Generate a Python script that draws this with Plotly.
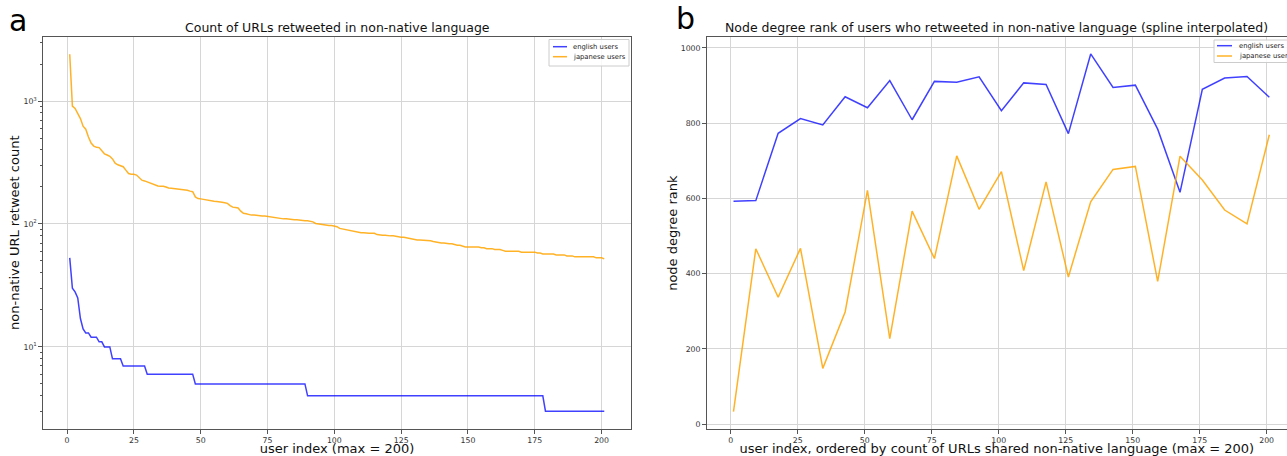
import plotly.graph_objects as go

# ---------------- data ----------------
user_index = list(range(1, 202))

english_counts = [
    53, 30, 28, 25, 17, 14, 13, 13, 12, 12, 12, 11, 11, 10, 10, 10, 8, 8, 8, 8,
    7, 7, 7, 7, 7, 7, 7, 7, 7, 6, 6, 6, 6, 6, 6, 6, 6, 6, 6, 6,
    6, 6, 6, 6, 6, 6, 6, 5, 5, 5, 5, 5, 5, 5, 5, 5, 5, 5, 5, 5,
    5, 5, 5, 5, 5, 5, 5, 5, 5, 5, 5, 5, 5, 5, 5, 5, 5, 5, 5, 5,
    5, 5, 5, 5, 5, 5, 5, 5, 5, 4, 4, 4, 4, 4, 4, 4, 4, 4, 4, 4,
    4, 4, 4, 4, 4, 4, 4, 4, 4, 4, 4, 4, 4, 4, 4, 4, 4, 4, 4, 4,
    4, 4, 4, 4, 4, 4, 4, 4, 4, 4, 4, 4, 4, 4, 4, 4, 4, 4, 4, 4,
    4, 4, 4, 4, 4, 4, 4, 4, 4, 4, 4, 4, 4, 4, 4, 4, 4, 4, 4, 4,
    4, 4, 4, 4, 4, 4, 4, 4, 4, 4, 4, 4, 4, 4, 4, 4, 4, 4, 3, 3,
    3, 3, 3, 3, 3, 3, 3, 3, 3, 3, 3, 3, 3, 3, 3, 3, 3, 3, 3, 3,
    3,
]

japanese_counts = [
    2400, 910, 870, 800, 720, 625, 590, 510, 455, 430, 420, 418, 398, 372, 364, 355, 338, 312, 303, 297,
    292, 274, 257, 254, 254, 250, 237, 227, 224, 220, 217, 212, 207, 204, 203, 203, 200, 196, 195, 194,
    193, 191, 190, 189, 188, 185, 183, 166, 161, 160, 159, 158, 156, 154, 153, 152, 152, 150, 149, 147,
    141, 137, 136, 135, 127, 122, 121, 119, 118, 118, 117, 117, 116, 116, 115, 114, 113, 112, 111, 111,
    110, 110, 109, 109, 108, 108, 107, 107, 106, 106, 105, 104, 101, 100, 99, 98, 98, 97, 97, 96,
    95, 92, 91, 90, 90, 89, 87, 87, 86, 85, 85, 84, 84, 84, 84, 82, 81, 81, 81, 80,
    80, 80, 79, 79, 78, 78, 77, 76, 75, 75, 74, 74, 74, 74, 73, 73, 72, 71, 70, 70,
    70, 69, 69, 69, 68, 67, 67, 66, 65, 65, 65, 65, 65, 65, 64, 64, 63, 63, 63, 62,
    62, 62, 61, 60, 60, 60, 60, 60, 60, 59, 59, 59, 59, 59, 59, 58, 58, 57, 57, 57,
    57, 57, 56, 56, 56, 56, 55, 55, 55, 54, 54, 54, 54, 54, 54, 54, 54, 53, 53, 53,
    52,
]

rank_index = [1, 9.33, 17.67, 26, 34.33, 42.67, 51, 59.33, 67.67, 76, 84.33, 92.67, 101,
              109.33, 117.67, 126, 134.33, 142.67, 151, 159.33, 167.67, 176, 184.33, 192.67, 201]
english_rank = [592, 594, 773, 812, 795, 870, 841, 913, 809, 911, 909, 923, 833,
                907, 903, 772, 984, 895, 901, 784, 616, 890, 920, 924, 869]
japanese_rank = [33, 466, 337, 467, 148, 298, 621, 227, 566, 440, 713, 571, 671,
                 408, 644, 391, 591, 677, 685, 379, 712, 649, 569, 532, 769]

x_ticks = [0, 25, 50, 75, 100, 125, 150, 175, 200]
log_ticks = [10, 100, 1000]
log_tick_text = ["10<sup>1</sup>", "10<sup>2</sup>", "10<sup>3</sup>"]
log_minor = [3, 4, 5, 6, 7, 8, 9, 20, 30, 40, 50, 60, 70, 80, 90,
             200, 300, 400, 500, 600, 700, 800, 900, 2000, 3000]
rank_ticks = [0, 200, 400, 600, 800, 1000]

series_names = ["english users", "japanese users"]
BLUE = "rgba(0,0,255,0.75)"
ORANGE = "rgba(255,165,0,0.85)"

# ---------------- layout helpers ----------------
W, H = 1287, 456
FONT = "DejaVu Sans"


def px(x):
    return x / W


def py(y):
    return 1 - y / H


fig = go.Figure()
fig.add_trace(go.Scatter(x=user_index, y=english_counts, mode="lines", name=series_names[0],
                         line=dict(color=BLUE, width=1.5), xaxis="x", yaxis="y", showlegend=False))
fig.add_trace(go.Scatter(x=user_index, y=japanese_counts, mode="lines", name=series_names[1],
                         line=dict(color=ORANGE, width=1.5), xaxis="x", yaxis="y", showlegend=False))
fig.add_trace(go.Scatter(x=rank_index, y=english_rank, mode="lines", name=series_names[0],
                         line=dict(color=BLUE, width=1.5), xaxis="x2", yaxis="y2", showlegend=False))
fig.add_trace(go.Scatter(x=rank_index, y=japanese_rank, mode="lines", name=series_names[1],
                         line=dict(color=ORANGE, width=1.5), xaxis="x2", yaxis="y2", showlegend=False))

GRID = "#d6d6d6"
LINE = "#555555"
tickfont = dict(family=FONT, size=7.8, color="#333333")
titlefont = dict(family=FONT, size=13, color="#111111")

common_x = dict(tickmode="array", tickvals=x_ticks, ticks="outside", ticklen=3.5, tickcolor=LINE,
                showline=True, linecolor=LINE, linewidth=1.2, showgrid=True, gridcolor=GRID,
                gridwidth=1.3, zeroline=False, tickfont=tickfont, automargin=False)

fig.update_layout(
    width=W, height=H,
    margin=dict(l=0, r=0, t=0, b=0),
    paper_bgcolor="white", plot_bgcolor="white",
    font=dict(family=FONT),
    xaxis=dict(domain=[px(43), px(631)], range=[-9, 211], mirror=True, anchor="y",
               title=dict(text="user index (max = 200)", font=titlefont, standoff=4), **common_x),
    yaxis=dict(domain=[py(429), py(36.5)], type="log", range=[0.332, 3.525], anchor="x",
               tickmode="array", tickvals=log_ticks, ticktext=log_tick_text,
               ticks="outside", ticklen=3.5, tickcolor=LINE,
               minor=dict(tickmode="array", tickvals=log_minor, ticks="outside", ticklen=2,
                          tickcolor=LINE, showgrid=False),
               showline=True, linecolor=LINE, linewidth=1.2, mirror=True,
               showgrid=True, gridcolor=GRID, gridwidth=1.3, zeroline=False,
               tickfont=tickfont, automargin=False,
               title=dict(text="non-native URL retweet count", font=titlefont, standoff=0)),
    xaxis2=dict(domain=[px(706.7), 1.0], range=[-9, 207.6], mirror=True, anchor="y2",
                title=dict(text="user index, ordered by count of URLs shared non-native language (max = 200)",
                           font=titlefont, standoff=4), **common_x),
    yaxis2=dict(domain=[py(429.3), py(37)], range=[-14, 1029], anchor="x2",
                tickmode="array", tickvals=rank_ticks, ticks="outside", ticklen=3.5, tickcolor=LINE,
                showline=True, linecolor=LINE, linewidth=1.2, mirror=False,
                showgrid=True, gridcolor=GRID, gridwidth=1.3, zeroline=False,
                tickfont=tickfont, automargin=False,
                title=dict(text="node degree rank", font=titlefont, standoff=0)),
)

annotations = [
    dict(text="Count of URLs retweeted in non-native language", x=px(337), y=py(28),
         font=dict(family=FONT, size=12.5, color="#111111")),
    dict(text="Node degree rank of users who retweeted in non-native language (spline interpolated)",
         x=px(996.5), y=py(28), font=dict(family=FONT, size=12.5, color="#111111")),
    dict(text="a", x=px(18), y=py(20), font=dict(family=FONT, size=30, color="#000000")),
    dict(text="b", x=px(685), y=py(19), font=dict(family=FONT, size=30, color="#000000")),
]
shapes = []


def add_legend(x0, x1, y0, y1, row_ys, line_x0, line_x1, text_x):
    shapes.append(dict(type="rect", xref="paper", yref="paper", x0=px(x0), x1=px(x1), y0=py(y1), y1=py(y0),
                       line=dict(color="#cccccc", width=1), fillcolor="rgba(255,255,255,0.85)"))
    for yy, col, name in zip(row_ys, [BLUE, ORANGE], series_names):
        shapes.append(dict(type="line", xref="paper", yref="paper", x0=px(line_x0), x1=px(line_x1),
                           y0=py(yy), y1=py(yy), line=dict(color=col, width=1.5)))
        annotations.append(dict(text=name, x=px(text_x), y=py(yy), xanchor="left",
                                font=dict(family=FONT, size=6.8, color="#222222")))


add_legend(549, 629, 39.5, 66, [46.7, 56.7], 553, 567, 571)
add_legend(1214, 1296, 40, 62.5, [45.7, 56], 1217, 1232, 1237)

for a in annotations:
    a.setdefault("xref", "paper")
    a.setdefault("yref", "paper")
    a.setdefault("showarrow", False)
    a.setdefault("xanchor", "center")
    a.setdefault("yanchor", "middle")

fig.update_layout(annotations=annotations, shapes=shapes)

fig.write_html("out.html", config={"displayModeBar": False},
               post_script="document.body.style.margin='0px';document.body.style.overflow='hidden';")
